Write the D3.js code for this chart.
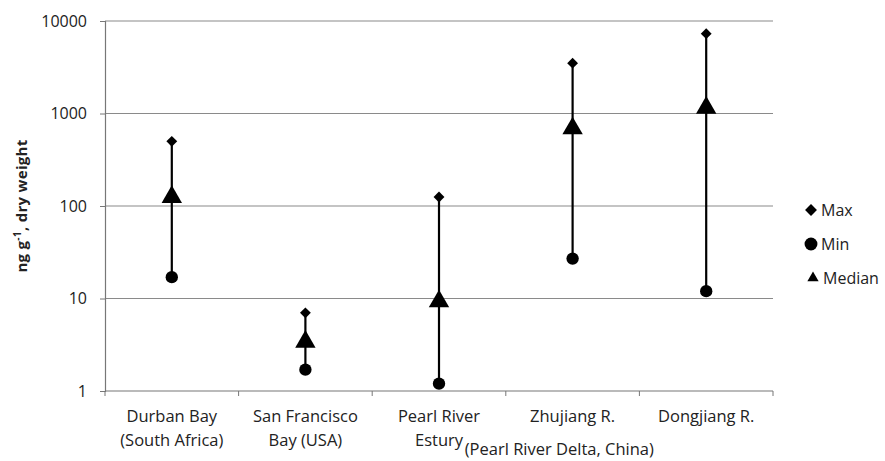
<!DOCTYPE html>
<html>
<head>
<meta charset="utf-8">
<script src="https://cdn.jsdelivr.net/npm/d3@7"></script>
<style>
  body { margin: 0; background: #fff; }
  text { font-family: "Open Sans", Lato, sans-serif; fill: #222; }
</style>
</head>
<body>
<div id="chart"></div>
<script>
// Values
const categories = [
  ['Durban Bay', '(South Africa)'],
  ['San Francisco', 'Bay (USA)'],
  ['Pearl River', 'Estury'],
  ['Zhujiang R.'],
  ['Dongjiang R.']
];
const regionNote = '(Pearl River Delta, China)';
const maxVals = [500, 7, 125, 3500, 7300];
const minVals = [17, 1.7, 1.2, 27, 12];
const medianVals = [125, 3.4, 9.3, 690, 1150];
const yTicks = [1, 10, 100, 1000, 10000];
const legendItems = ['Max', 'Min', 'Median'];

const width = 885;
const height = 461;
const margin = { top: 21, right: 112, bottom: 70, left: 105 };

const svg = d3.select('#chart')
  .append('svg')
  .attr('width', width)
  .attr('height', height);

const x = d3.scaleBand()
  .domain(d3.range(categories.length))
  .range([margin.left, width - margin.right]);

const y = d3.scaleLog()
  .domain([1, 10000])
  .range([height - margin.bottom, margin.top]);

// gridlines
svg.append('g')
  .selectAll('line')
  .data(yTicks.slice(1))
  .enter()
  .append('line')
  .attr('x1', margin.left)
  .attr('x2', width - margin.right)
  .attr('y1', d => y(d))
  .attr('y2', d => y(d))
  .attr('stroke', '#8a8a8a')
  .attr('stroke-width', 1.2);

// y axis
const yAxis = svg.append('g')
  .attr('transform', `translate(${margin.left},0)`)
  .call(d3.axisLeft(y).tickValues(yTicks).tickFormat(d3.format('d')).tickSize(5).tickPadding(13));
yAxis.select('.domain').attr('stroke', '#777').attr('stroke-width', 1.2);
yAxis.selectAll('.tick line').attr('stroke', '#777');
yAxis.selectAll('.tick text').attr('font-size', 16).attr('fill', '#222');

// x axis (ticks at category boundaries)
const xAxisG = svg.append('g')
  .attr('transform', `translate(0,${y(1)})`);
xAxisG.append('line')
  .attr('x1', margin.left)
  .attr('x2', width - margin.right)
  .attr('stroke', '#777')
  .attr('stroke-width', 1.2);
xAxisG.selectAll('line.tk')
  .data(d3.range(categories.length + 1))
  .enter()
  .append('line')
  .attr('class', 'tk')
  .attr('x1', i => i < categories.length ? x(i) : x(i - 1) + x.bandwidth())
  .attr('x2', i => i < categories.length ? x(i) : x(i - 1) + x.bandwidth())
  .attr('y1', 0)
  .attr('y2', 5)
  .attr('stroke', '#777');

// category labels
const cx = i => x(i) + x.bandwidth() / 2;
const labels = svg.append('g')
  .selectAll('text')
  .data(categories)
  .enter()
  .append('text')
  .attr('font-size', 16.5)
  .attr('x', (d, i) => cx(i))
  .attr('y', y(1) + 31);
labels.each(function (d, i) {
  const t = d3.select(this);
  d.forEach((line, j) => {
    t.append('tspan')
      .attr('x', cx(i))
      .attr('y', y(1) + 31 + j * 24)
      .attr('text-anchor', 'middle')
      .text(line);
  });
});

// the note hangs off the end of "Estury", like a subscript
const estury = labels.filter((d, i) => i === 2).selectAll('tspan').filter((d, j) => j === 1).node();
const estBox = estury.getBBox();
svg.append('text')
  .attr('x', estBox.x + estBox.width + 1)
  .attr('y', y(1) + 64)
  .attr('font-size', 16.5)
  .text(regionNote);

// y axis title
svg.append('text')
  .attr('transform', `translate(27,${(y(1) + y(10000)) / 2}) rotate(-90)`)
  .attr('text-anchor', 'middle')
  .attr('font-size', 15)
  .attr('font-weight', 'bold')
  .attr('letter-spacing', 0.3)
  .html('ng g<tspan dy="-6" font-size="10">-1</tspan><tspan dy="6">, dry weight</tspan>');

// range lines
svg.append('g')
  .selectAll('line')
  .data(d3.range(categories.length))
  .enter()
  .append('line')
  .attr('x1', cx)
  .attr('x2', cx)
  .attr('y1', i => y(minVals[i]))
  .attr('y2', i => y(maxVals[i]))
  .attr('stroke', '#000')
  .attr('stroke-width', 2.2);

const diamond = d3.symbol().type(d3.symbolDiamond2).size(75);
const circle = d3.symbol().type(d3.symbolCircle).size(120);
const triangle = d3.symbol().type(d3.symbolTriangle).size(180);

svg.append('g').selectAll('path')
  .data(maxVals).enter().append('path')
  .attr('d', diamond)
  .attr('transform', (d, i) => `translate(${cx(i)},${y(d)})`)
  .attr('fill', '#000');

svg.append('g').selectAll('path')
  .data(minVals).enter().append('path')
  .attr('d', circle)
  .attr('transform', (d, i) => `translate(${cx(i)},${y(d)})`)
  .attr('fill', '#000');

svg.append('g').selectAll('path')
  .data(medianVals).enter().append('path')
  .attr('d', triangle)
  .attr('transform', (d, i) => `translate(${cx(i)},${y(d)})`)
  .attr('fill', '#000');

// legend
const legendSymbols = [
  d3.symbol().type(d3.symbolDiamond2).size(90),
  d3.symbol().type(d3.symbolCircle).size(130),
  d3.symbol().type(d3.symbolTriangle).size(55)
];
const legendDx = [0, 0, 2];
const legend = svg.append('g')
  .selectAll('g')
  .data(legendItems)
  .enter()
  .append('g')
  .attr('transform', (d, i) => `translate(${811 + legendDx[i]},${210 + i * 34})`);
legend.append('path')
  .attr('d', (d, i) => legendSymbols[i]())
  .attr('fill', '#000');
legend.append('text')
  .attr('x', 10)
  .attr('y', 6)
  .attr('font-size', 16)
  .text(d => d);
</script>
</body>
</html>
